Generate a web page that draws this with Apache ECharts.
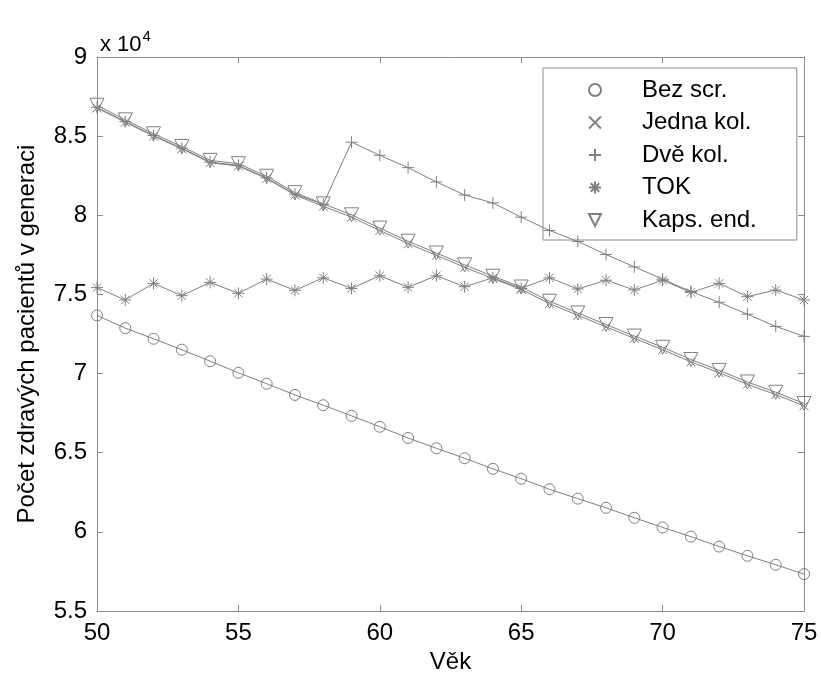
<!DOCTYPE html>
<html>
<head>
<meta charset="utf-8">
<script src="https://cdn.jsdelivr.net/npm/echarts@6/dist/echarts.min.js"></script>
<style>html,body{margin:0;padding:0;background:#fff;}#chart{width:821px;height:679px;}</style>
</head>
<body>
<div id="chart"></div>
<script>
// Age (Věk)
var ages = [50,51,52,53,54,55,56,57,58,59,60,61,62,63,64,65,66,67,68,69,70,71,72,73,74,75];
// Values in units of 10^4 patients
var bezScr = [7.367,7.287,7.220,7.151,7.078,7.005,6.936,6.865,6.800,6.733,6.664,6.593,6.528,6.465,6.398,6.336,6.269,6.210,6.152,6.089,6.028,5.970,5.907,5.849,5.792,5.733];
var jednaKol = [8.678,8.588,8.500,8.420,8.332,8.311,8.232,8.128,8.057,7.988,7.904,7.821,7.747,7.672,7.600,7.532,7.442,7.368,7.295,7.222,7.151,7.074,7.005,6.932,6.867,6.796];
var dveKol = [8.682,8.592,8.504,8.424,8.336,8.315,8.236,8.133,8.070,8.462,8.379,8.301,8.211,8.128,8.078,7.988,7.904,7.835,7.752,7.674,7.597,7.518,7.450,7.375,7.298,7.235];
var tok = [7.543,7.465,7.570,7.492,7.576,7.507,7.597,7.526,7.605,7.538,7.618,7.545,7.618,7.549,7.605,7.538,7.605,7.534,7.590,7.528,7.590,7.513,7.570,7.486,7.528,7.465];
var kapsEnd = [8.695,8.603,8.515,8.435,8.347,8.326,8.247,8.143,8.072,8.003,7.919,7.836,7.762,7.687,7.615,7.547,7.457,7.383,7.310,7.237,7.166,7.089,7.020,6.947,6.882,6.811];
var seriesNames = ['Bez scr.','Jedna kol.','Dvě kol.','TOK','Kaps. end.'];
var yTicks = {min: 5.5, max: 9, interval: 0.5};
var xTicks = {min: 50, max: 75, interval: 5};

var FONT = 'Liberation Sans';
var GRAY = '#808080';
var AXIS = '#8a8a8a';

function pairs(vals){ return ages.map(function(a,i){ return [a, vals[i]]; }); }

var symbols = {
  'Bez scr.': {symbol: 'circle', size: 11},
  'Jedna kol.': {symbol: 'path://M0,0L10,10M10,0L0,10', size: 9},
  'Dvě kol.': {symbol: 'path://M5,0L5,10M0,5L10,5', size: 12},
  'TOK': {symbol: 'path://M5,0L5,10M0,5L10,5M1.5,1.5L8.5,8.5M8.5,1.5L1.5,8.5', size: 12},
  'Kaps. end.': {symbol: 'path://M0,0L10,0L5,8.66Z', size: 14}
};
var dataMap = {'Bez scr.': bezScr, 'Jedna kol.': jednaKol, 'Dvě kol.': dveKol, 'TOK': tok, 'Kaps. end.': kapsEnd};

var series = seriesNames.map(function(n){
  return {
    name: n, type: 'line', data: pairs(dataMap[n]),
    symbol: symbols[n].symbol, symbolSize: symbols[n].size, showAllSymbol: true,
    lineStyle: {color: GRAY, width: 1},
    itemStyle: {color: 'transparent', borderColor: GRAY, borderWidth: 1},
    emphasis: {disabled: true}, animation: false
  };
});

var chart = echarts.init(document.getElementById('chart'));
var axisCommon = {
  type: 'value', splitLine: {show: false},
  axisLine: {show: true, lineStyle: {color: AXIS, width: 1}},
  axisTick: {show: true, inside: true, length: 6, lineStyle: {color: AXIS}}
};
chart.setOption({
  animation: false,
  backgroundColor: '#fff',
  title: {
    text: '{a|x 10}{b|4}', left: 95, top: 24,
    textStyle: {fontWeight: 'normal', rich: {
      a: {fontFamily: FONT, fontSize: 22, fontWeight: 'normal', color: '#000', verticalAlign: 'bottom'},
      b: {fontFamily: FONT, fontSize: 15, fontWeight: 'normal', color: '#000', padding: [0,0,12,1], verticalAlign: 'bottom'}
    }}
  },
  grid: {left: 97, right: 17, top: 57, bottom: 64, containLabel: false},
  legend: {
    orient: 'vertical', left: 543, top: 68,
    data: seriesNames,
    itemWidth: 84, itemHeight: 15, itemGap: 8.5,
    padding: [10, 40, 8, 10],
    borderColor: AXIS, borderWidth: 1,
    textStyle: {fontFamily: FONT, fontSize: 24, color: '#000', lineHeight: 24},
    lineStyle: {width: 0, opacity: 0},
    selectedMode: false
  },
  xAxis: [
    Object.assign({}, axisCommon, {
      min: xTicks.min, max: xTicks.max, interval: xTicks.interval, position: 'bottom',
      name: 'Věk', nameLocation: 'middle', nameGap: 39,
      nameTextStyle: {fontFamily: FONT, fontSize: 24, color: '#000'},
      axisLabel: {fontFamily: FONT, fontSize: 24, color: '#000', margin: 10}
    }),
    Object.assign({}, axisCommon, {
      min: xTicks.min, max: xTicks.max, interval: xTicks.interval, position: 'top',
      axisLabel: {show: false}
    })
  ],
  yAxis: [
    Object.assign({}, axisCommon, {
      min: yTicks.min, max: yTicks.max, interval: yTicks.interval, position: 'left',
      name: 'Počet zdravých pacientů v generaci', nameLocation: 'middle', nameGap: 58,
      nameTextStyle: {fontFamily: FONT, fontSize: 24, color: '#000'},
      axisLabel: {fontFamily: FONT, fontSize: 24, color: '#000', margin: 10,
        formatter: function(v){ return String(Math.round(v*10)/10); }}
    }),
    Object.assign({}, axisCommon, {
      min: yTicks.min, max: yTicks.max, interval: yTicks.interval, position: 'right',
      axisLabel: {show: false}
    })
  ],
  series: series
});
</script>
</body>
</html>
